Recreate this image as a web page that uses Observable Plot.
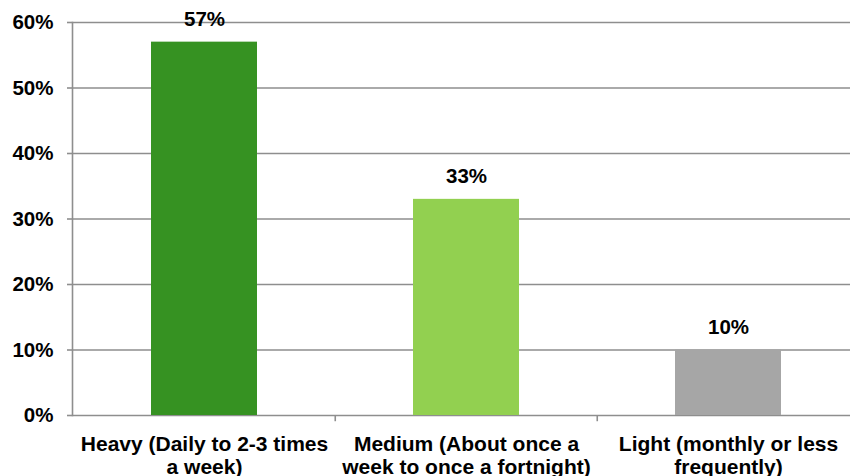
<!DOCTYPE html>
<html>
<head>
<meta charset="utf-8">
<script src="https://cdn.jsdelivr.net/npm/d3@7"></script>
<script src="https://cdn.jsdelivr.net/npm/@observablehq/plot@0.6"></script>
<style>
  html, body { margin: 0; padding: 0; background: #fff; overflow: hidden; }
</style>
</head>
<body>
<div id="chart"></div>
<script>
// Frequency segments and their share of respondents
const categories = ["Heavy", "Medium", "Light"];
const tickLabels = [
  "Heavy (Daily to 2-3 times\na week)",
  "Medium (About once a\nweek to once a fortnight)",
  "Light (monthly or less\nfrequently)"
];
const shares = [0.57, 0.33, 0.10];
const barColors = ["#369222", "#92d050", "#a6a6a6"];
const yTicks = [0, 0.1, 0.2, 0.3, 0.4, 0.5, 0.6];

const data = categories.map((c, i) => ({
  category: c,
  share: shares[i],
  color: barColors[i]
}));

const font = "'Liberation Sans', Arial, Helvetica, sans-serif";
const pct = d3.format(".0%");
const grey = "#8e8e8e";
const halfStep = 131.25;

const chart = Plot.plot({
  width: 850,
  height: 476,
  marginTop: 22,
  marginBottom: 61,
  marginLeft: 72,
  marginRight: 0,
  style: {
    fontFamily: font,
    fontWeight: "bold",
    fontSize: "20.5px",
    color: "#000",
    background: "#fff",
    overflow: "visible"
  },
  x: {domain: categories, range: [72, 859.5], paddingInner: 0.596, paddingOuter: 0.298},
  y: {domain: [0, 0.6]},
  marks: [
    // horizontal gridlines
    Plot.ruleY(yTicks, {stroke: grey, strokeWidth: 1.6}),
    // value axis: tick marks and percentage labels
    Plot.axisY({
      ticks: yTicks,
      tickSize: 5,
      tickPadding: 14,
      tickFormat: pct,
      label: null,
      stroke: grey,
      strokeWidth: 1.6,
      fill: "#000",
      fontSize: 20.5,
      fontWeight: "bold"
    }),
    // vertical axis line
    Plot.frame({anchor: "left", stroke: grey, strokeWidth: 1.6}),
    // bars
    Plot.barY(data, {x: "category", y: "share", fill: "color"}),
    // separators between categories, below the baseline
    Plot.ruleX(categories.slice(1), {x: d => d, dx: -halfStep, y1: 0, y2: -0.0095, stroke: grey, strokeWidth: 1.6}),
    // category labels
    Plot.axisX({
      tickSize: 0,
      tickPadding: 19,
      tickFormat: d => tickLabels[categories.indexOf(d)],
      label: null,
      lineHeight: 1.1,
      fill: "#000",
      fontSize: 21,
      fontWeight: "bold"
    }),
    // value labels above bars
    Plot.text(data, {
      x: "category",
      y: "share",
      text: d => pct(d.share),
      dy: -23,
      fill: "#000",
      fontSize: 20.5,
      fontWeight: "bold"
    })
  ]
});

document.getElementById("chart").append(chart);
</script>
</body>
</html>
